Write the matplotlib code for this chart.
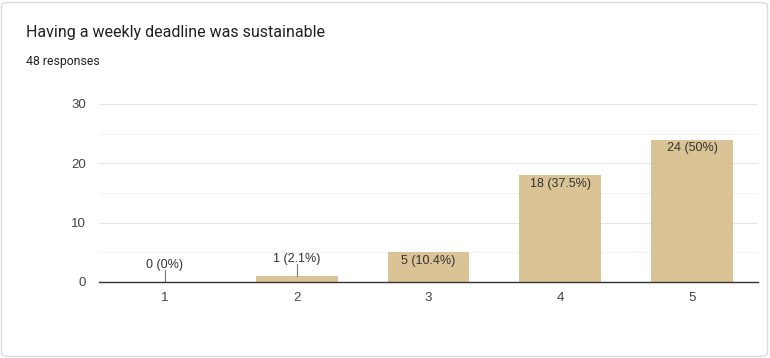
import matplotlib.pyplot as plt
from matplotlib.patches import FancyBboxPatch

plt.rcParams["font.family"] = ["Roboto", "DejaVu Sans"]

title = "Having a weekly deadline was sustainable"
subtitle = "48 responses"
categories = ["1", "2", "3", "4", "5"]
counts = [0, 1, 5, 18, 24]
labels = ["0 (0%)", "1 (2.1%)", "5 (10.4%)", "18 (37.5%)", "24 (50%)"]
yticks = [0, 10, 20, 30]

BAR_COLOR = "#dac495"
TEXT = "#333333"
CHART_FONT = ["Liberation Sans", "DejaVu Sans"]

fig = plt.figure(figsize=(7.7, 3.58), dpi=100)
fig.patch.set_facecolor("white")

# card outline, kept behind the axes
card = FancyBboxPatch((1.5 / 770, 1.5 / 358), 766 / 770, 354 / 358,
                      boxstyle="round,pad=0,rounding_size=0.01",
                      transform=fig.transFigure, facecolor="white",
                      edgecolor="#dadce0", linewidth=1.0, zorder=-5)
fig.patches.append(card)

fig.text(26 / 770, 1 - 33 / 358, title, fontsize=11.5, color="#202124",
         va="center", ha="left")
fig.text(26 / 770, 1 - 61 / 358, subtitle, fontsize=8.8, color="#202124",
         va="center", ha="left")

ax = fig.add_axes([99 / 770, 1 - 282 / 358, 659 / 770, 178 / 358])
ax.set_facecolor("none")
x = list(range(len(categories)))
ax.bar(x, counts, width=0.62, color=BAR_COLOR, zorder=3)

ax.set_xlim(-0.5, len(categories) - 0.5)
ax.set_ylim(0, 30)
ax.set_yticks(yticks)
ax.set_yticks([5, 15, 25], minor=True)
ax.set_xticks(x)
ax.set_xticklabels(categories)
for t in ax.get_xticklabels() + ax.get_yticklabels():
    t.set_family(CHART_FONT)
ax.grid(axis="y", which="major", color="#e6e6e6", linewidth=0.8, zorder=0)
ax.grid(axis="y", which="minor", color="#f3f3f3", linewidth=0.8, zorder=0)
ax.tick_params(axis="both", which="both", length=0, labelsize=9.5, colors="#444444")
ax.tick_params(axis="y", pad=9.5)
ax.tick_params(axis="x", pad=7)
for s in ["top", "right", "left"]:
    ax.spines[s].set_visible(False)
ax.spines["bottom"].set_color("#333333")
ax.spines["bottom"].set_linewidth(1.0)
ax.spines["bottom"].set_zorder(4)

for xi, c, lab in zip(x, counts, labels):
    if c < 3:
        # label above with a short leader line
        ax.plot([xi, xi], [c, c + 2.1], color="#777777", linewidth=0.8, zorder=4)
        ax.text(xi, c + 1.9, lab, ha="center", va="bottom", fontsize=9,
                color=TEXT, zorder=5, family=CHART_FONT)
    else:
        ax.text(xi, c - 0.4, lab, ha="center", va="top", fontsize=9,
                color=TEXT, zorder=5, family=CHART_FONT)

fig.savefig("out.png", dpi=100)
